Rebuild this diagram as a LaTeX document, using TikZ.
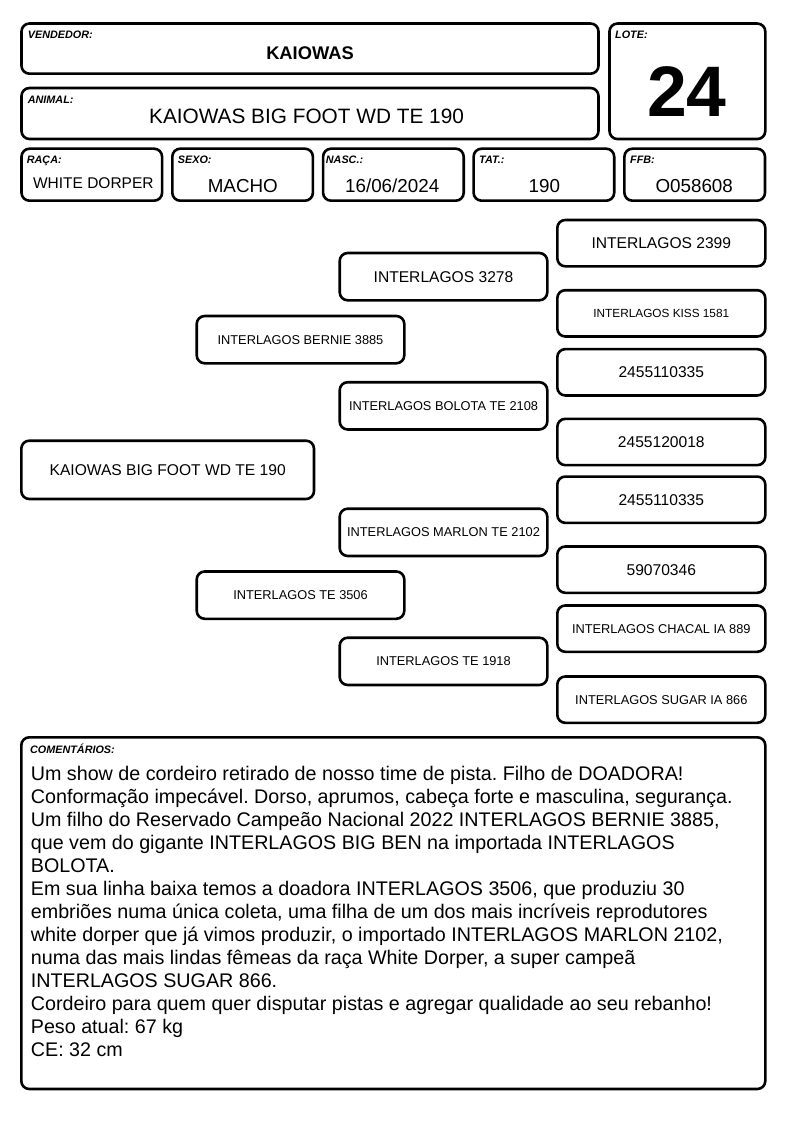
\documentclass[tikz,border=0pt]{standalone}
\usepackage{fontspec}
\setmainfont{Liberation Sans}
\newcommand\setfs[1]{\fontsize{#1}{#1}\selectfont}
\frenchspacing
\begin{document}
\frenchspacing
\begin{tikzpicture}[x=1pt,y=-1pt,
  box/.style={draw, line width=2.6pt, rounded corners=8pt, inner sep=0pt, rectangle},
  lab/.style={inner sep=0pt, anchor=base west, font=\bfseries\itshape\setfs{10.8}},
  val/.style={inner sep=0pt, anchor=base},
  rcol/.style={box, minimum width=208pt, minimum height=46.3pt},
  mcol/.style={box, minimum width=207.6pt, minimum height=47.3pt},
  big/.style={font=\setfs{15.6}},
  small/.style={font=\setfs{12.8}},
  info/.style={box, minimum width=140.6pt, minimum height=52pt},
  ctext/.style={inner sep=0pt, anchor=base west, font=\frenchspacing\setfs{19.7}}
]
\useasboundingbox (0,0) rectangle (794,1123);
\fill[white] (0,0) rectangle (794,1123);

% header
\node[box, minimum width=577pt, minimum height=50.2pt] (vend) at (310,48.6) {};
\node[lab] (lvend) at (27.7,39) {VENDEDOR:};
\node[val, font=\bfseries\setfs{18.3}] (tvend) at (310,60) {KAIOWAS};

\node[box, minimum width=577pt, minimum height=51pt] (anim) at (310,113.5) {};
\node[lab] (lanim) at (27.7,103.3) {ANIMAL:};
\node[val, font=\setfs{20.8}] (tanim) at (306.5,123.3) {KAIOWAS BIG FOOT WD TE 190};

\node[box, minimum width=155.8pt, minimum height=115.5pt] (lote) at (687.4,81.3) {};
\node[lab] (llote) at (615,39) {LOTE:};
\node[val, font=\bfseries\setfs{71.5}] (tlote) at (686.8,116.7) {24};

\node[info] (raca) at (91.8,174.7) {};
\node[lab] (lraca) at (26.7,163.3) {RAÇA:};
\node[val, font=\setfs{15.5}] (traca) at (93.3,188.3) {WHITE DORPER};

\node[info] (sexo) at (242.6,174.7) {};
\node[lab] (lsexo) at (177.7,164) {SEXO:};
\node[val, font=\setfs{18.8}] (tsexo) at (242.8,192.7) {MACHO};

\node[info] (nasc) at (393.4,174.7) {};
\node[lab] (lnasc) at (325.7,164) {NASC.:};
\node[val, font=\setfs{18.8}] (tnasc) at (392.2,192.7) {16/06/2024};

\node[info] (tat) at (543.9,174.7) {};
\node[lab] (ltat) at (479,164) {TAT.:};
\node[val, font=\setfs{18.8}] (ttat) at (544.3,192.7) {190};

\node[info] (ffb) at (694.7,174.7) {};
\node[lab] (lffb) at (630,164) {FFB:};
\node[val, font=\setfs{18.8}] (tffb) at (694.2,192.7) {O058608};

% pedigree
\node[box, minimum width=292.7pt, minimum height=58.3pt, big] (p0) at (167.65,469.85) {KAIOWAS BIG FOOT WD TE 190};

\node[mcol, small] (p1) at (300.5,339.65) {INTERLAGOS BERNIE 3885};
\node[mcol, small] (p2) at (300.5,595.15) {INTERLAGOS TE 3506};

\node[mcol, big] (p11) at (443.5,276.65) {INTERLAGOS 3278};
\node[mcol, small] (p12) at (443.5,405.85) {INTERLAGOS BOLOTA TE 2108};
\node[mcol, small] (p21) at (443.5,532.35) {INTERLAGOS MARLON TE 2102};
\node[mcol, small] (p22) at (443.5,661.35) {INTERLAGOS TE 1918};

\node[rcol, big] (p111) at (661.3,243.15) {INTERLAGOS 2399};
\node[rcol, font=\setfs{11.8}] (p112) at (661.3,313.35) {INTERLAGOS KISS 1581};
\node[rcol, big] (p121) at (661.3,372.3) {2455110335};
\node[rcol, big] (p122) at (661.3,442) {2455120018};
\node[rcol, big] (p211) at (661.3,499.7) {2455110335};
\node[rcol, big] (p212) at (661.3,569.65) {59070346};
\node[rcol, small] (p221) at (661.3,628.65) {INTERLAGOS CHACAL IA 889};
\node[rcol, small] (p222) at (661.3,699.65) {INTERLAGOS SUGAR IA 866};

% comments
\node[box, minimum width=744pt, minimum height=351.7pt] (com) at (393.3,913.15) {};
\node[lab] (lcom) at (30,753.3) {COMENTÁRIOS:};
\node[ctext] (c1) at (30.7,780.5) {Um show de cordeiro retirado de nosso time de pista. Filho de DOADORA!};
\node[ctext] (c2) at (30.7,803.5) {Conformação impecável. Dorso, aprumos, cabeça forte e masculina, segurança.};
\node[ctext] (c3) at (30.7,826.5) {Um filho do Reservado Campeão Nacional 2022 INTERLAGOS BERNIE 3885,};
\node[ctext] (c4) at (30.7,849.5) {que vem do gigante INTERLAGOS BIG BEN na importada INTERLAGOS};
\node[ctext] (c5) at (30.7,872.5) {BOLOTA.};
\node[ctext] (c6) at (30.7,895.5) {Em sua linha baixa temos a doadora INTERLAGOS 3506, que produziu 30};
\node[ctext] (c7) at (30.7,918.5) {embriões numa única coleta, uma filha de um dos mais incríveis reprodutores};
\node[ctext] (c8) at (30.7,941.5) {white dorper que já vimos produzir, o importado INTERLAGOS MARLON 2102,};
\node[ctext] (c9) at (30.7,964.5) {numa das mais lindas fêmeas da raça White Dorper, a super campeã};
\node[ctext] (c10) at (30.7,987.5) {INTERLAGOS SUGAR 866.};
\node[ctext] (c11) at (30.7,1010.5) {Cordeiro para quem quer disputar pistas e agregar qualidade ao seu rebanho!};
\node[ctext] (c12) at (30.7,1033.5) {Peso atual: 67 kg};
\node[ctext] (c13) at (30.7,1056.5) {CE: 32 cm};
\end{tikzpicture}
\end{document}
